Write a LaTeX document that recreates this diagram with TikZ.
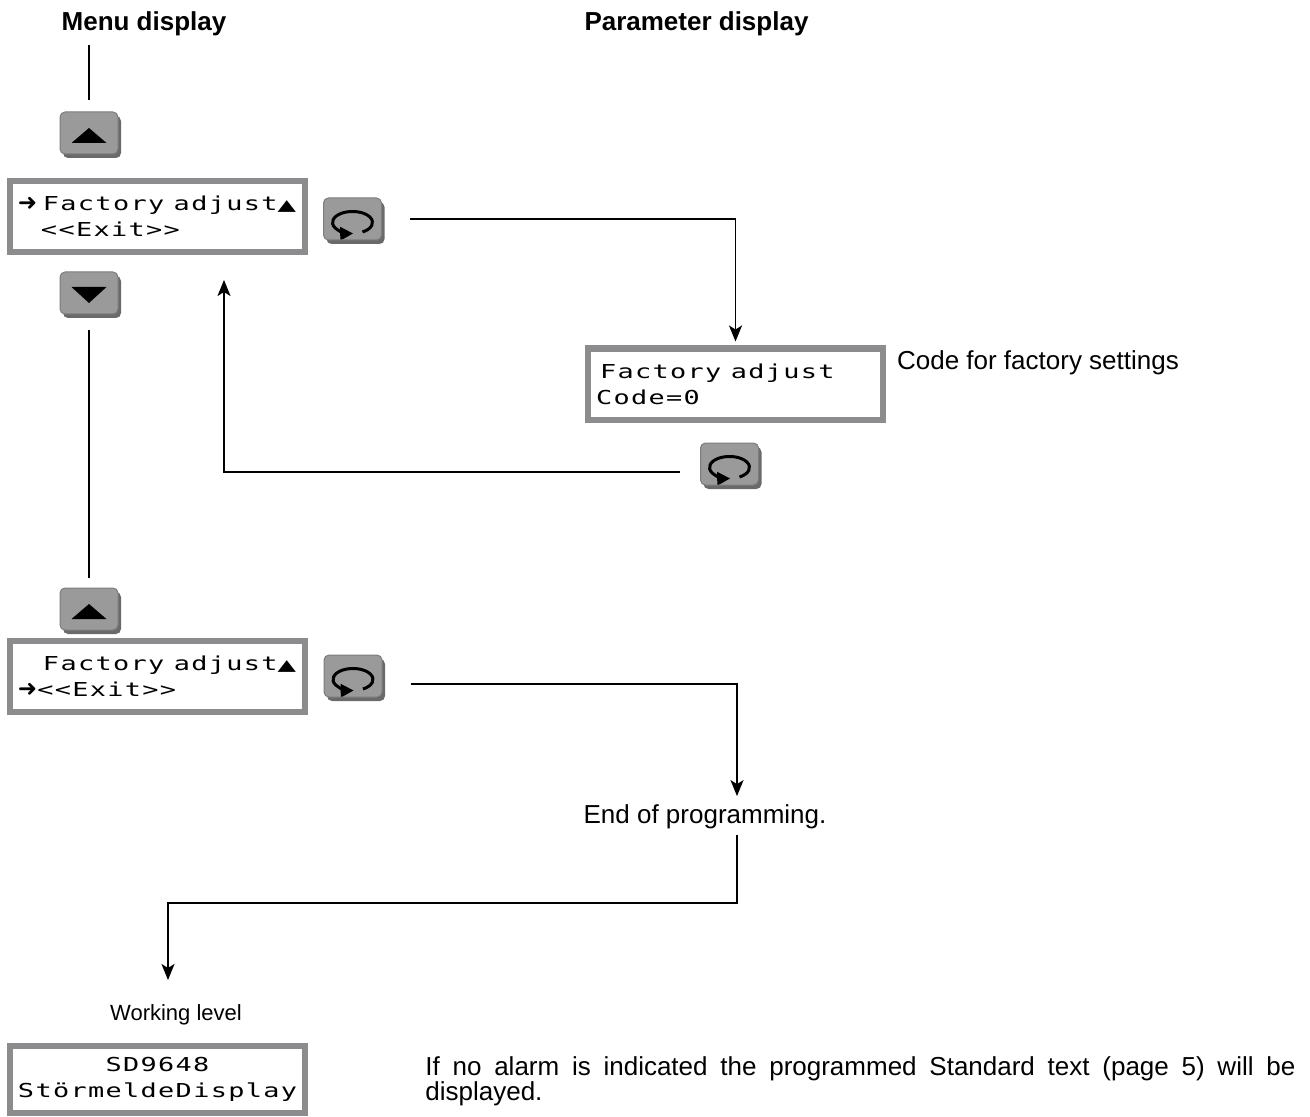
\documentclass[tikz,border=0pt]{standalone}
\usepackage{fontspec}
\setmainfont{Liberation Sans}
\newfontfamily\lcdfont{DejaVu Sans Mono}[FakeStretch=1.4, LetterSpace=7]
\newfontfamily\symfont{DejaVu Sans}
\usetikzlibrary{arrows.meta, shadows, calc}
\definecolor{lcdgray}{HTML}{8C8C8E}
\definecolor{btnface}{HTML}{9A9A9A}
\definecolor{btnrim}{HTML}{7C7C7C}
\definecolor{btndark}{HTML}{6A6A6A}
\newcommand{\lcdarrow}{{\symfont\scalebox{1.2}{➜}}}
\newcommand{\lcdup}{{\symfont\scalebox{1.25}[0.8]{▲}}}
\tolerance=9999
\hyphenpenalty=10000

\begin{document}
\begin{tikzpicture}[x=0.5pt, y=-0.5pt,
    font=\fontsize{13pt}{12.5pt}\selectfont,
    hd/.style={font=\fontsize{13pt}{15pt}\selectfont\bfseries, anchor=base},
    txt/.style={anchor=base},
    lcd/.style={draw=lcdgray, line width=3pt, fill=white, minimum height=35.5pt, text width=139.5pt,
        inner xsep=4pt, inner ysep=0pt, align=left, font=\lcdfont\fontsize{9.6pt}{13pt}\selectfont},
    btn/.style={fill=btnface, draw=btnrim, line width=0.5pt, rounded corners=2.5pt, minimum width=29pt,
        minimum height=21pt, inner sep=0pt, general shadow={fill=btndark, shadow xshift=1.5pt, shadow yshift=-2pt}},
    upbtn/.style={btn, path picture={\fill[black, sharp corners] ([xshift=-8.75pt, yshift=-5pt]path picture bounding box.center)
        -- ++(17.5pt,0pt) -- ++(-8.75pt,7.5pt) -- cycle;}},
    downbtn/.style={btn, path picture={\fill[black, sharp corners] ([xshift=-8.75pt, yshift=3pt]path picture bounding box.center)
        -- ++(17.5pt,0pt) -- ++(-8.75pt,-8pt) -- cycle;}},
    loopbtn/.style={btn, path picture={\draw[black, line width=1.5pt, -{Triangle[length=6.5pt, width=6.5pt]}]
        ([xshift=5pt, yshift=-6.5pt]path picture bounding box.center)
        arc[start angle=-60, end angle=272, x radius=10pt, y radius=5.5pt];}},
    wire/.style={draw, line width=0.9pt},
    link/.style={wire, -{Stealth[length=8pt, width=6.5pt, inset=2pt]}}
]
    \useasboundingbox (0,0) rectangle (1310,1117);

    \node[hd] (menuhd) at (144,31) {Menu display};
    \node[hd] (parhd) at (696.5,31) {Parameter display};

    \node[upbtn] (upA) at (89,133) {};
    \node[lcd] (lcdA) at (157.5,216.5) {\lcdarrow\kern2.8pt Factory\kern4.75pt adjust\lcdup\\\hspace*{11.5pt}<<Exit>>};
    \node[loopbtn] (loopA) at (352.5,219) {};
    \node[downbtn] (downA) at (89,293) {};

    \node[lcd] (lcdB) at (735.5,384) {\hspace*{2pt}Factory\kern4.75pt adjust\\Code=0};
    \node[txt, anchor=base west] (codetxt) at (890,370) {Code for factory settings};
    \node[loopbtn] (loopB) at (729.5,464) {};

    \node[upbtn] (upB) at (89,609) {};
    \node[lcd] (lcdC) at (157.5,676.5) {\hspace*{12.5pt}Factory\kern4.75pt adjust\lcdup\\\lcdarrow<<Exit>>};
    \node[loopbtn] (loopC) at (353,676) {};

    \node[txt] (endprog) at (705,823) {End of programming.};
    \node[txt, font=\fontsize{11pt}{12pt}\selectfont] (worklvl) at (176,1020) {Working level};
    \node[lcd, align=center, minimum height=33.5pt] (lcdD) at (157.5,1079.5) {SD9648\\StörmeldeDisplay};
    \node[anchor=north west, text width=435pt, align=justify, inner sep=0pt] (note) at (425,1056)
        {If no alarm is indicated the programmed Standard text (page 5) will be displayed.};

    \coordinate (menutop) at (89,45);
    \coordinate (bendpt) at (0,903);
    \coordinate (endout) at ([xshift=16pt]endprog.south);

    \draw[wire, shorten >=5.5pt] (menutop) -- (upA.north);
    \draw[wire, shorten <=8pt, shorten >=5pt] (downA.south) -- (upB.north);
    \draw[link, shorten <=14pt, shorten >=2pt] (loopA.east) -| (lcdB.north);
    \draw[link, shorten <=10pt, shorten >=12.5pt] ([yshift=-4pt]loopB.west) -| ([xshift=33.25pt]lcdA.south);
    \draw[link, shorten <=14pt, shorten >=0.5pt] ([yshift=-4pt]loopC.east) -| ([xshift=16pt]endprog.north);
    \draw[link, shorten >=8.5pt] (endout) -- (endout |- bendpt) -| ([xshift=-4pt]worklvl.north);
\end{tikzpicture}
\end{document}
